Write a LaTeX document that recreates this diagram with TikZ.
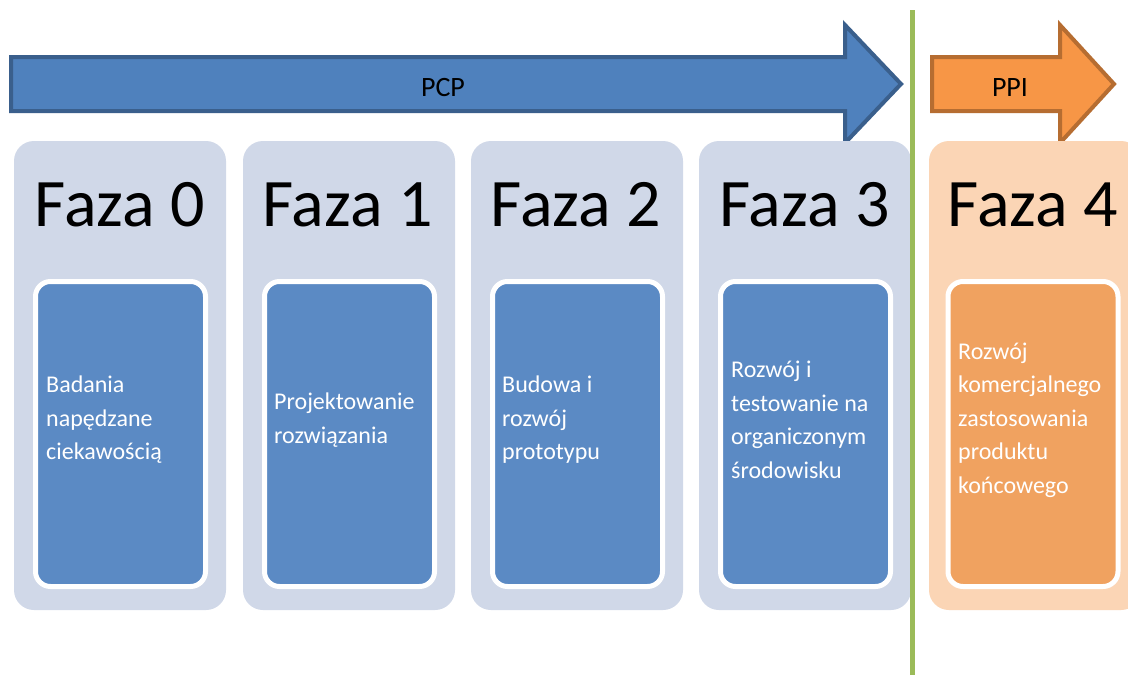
\documentclass[tikz,border=0pt]{standalone}
\usepackage{fontspec}
\setmainfont{Carlito}
\definecolor{arrblue}{HTML}{4F81BD}
\definecolor{arrblueedge}{HTML}{3A5F8C}
\definecolor{arrorange}{HTML}{F79646}
\definecolor{arrorangeedge}{HTML}{B66D31}
\definecolor{panelblue}{HTML}{D0D8E8}
\definecolor{panelorange}{HTML}{FBD5B5}
\definecolor{innerblue}{HTML}{5B8AC4}
\definecolor{innerorange}{HTML}{F0A260}
\definecolor{sepgreen}{HTML}{9BBB59}
\tikzset{
  panel/.style={rounded corners=20pt, minimum width=212pt, minimum height=469pt, inner sep=0pt},
  innerbox/.style={draw=white, line width=5pt, rounded corners=15pt, minimum width=170pt, minimum height=305pt, inner sep=0pt},
  fazatext/.style={font=\fontsize{68}{76}\selectfont, text=black, inner sep=0pt},
  desc/.style={font=\fontsize{24}{33.5}\selectfont, text=white, align=left, anchor=west, inner sep=0pt},
  arrowlabel/.style={font=\fontsize{28}{32}\selectfont, text=black, inner sep=0pt},
  bigarrow/.style={line width=4pt, line join=miter},
}
\begin{document}
\begin{tikzpicture}[x=1pt,y=-1pt]
\clip (0,0) rectangle (1128,675);
\fill[white] (0,0) rectangle (1128,675);
% arrows
\draw[bigarrow, fill=arrblue, draw=arrblueedge]
  (11,57) -- (845,57) -- (845,25) -- (901,84) -- (845,143) -- (845,111) -- (11,111) -- cycle;
\node[arrowlabel] (pcp) at (443,88) {PCP};
\draw[bigarrow, fill=arrorange, draw=arrorangeedge]
  (932,57) -- (1060,57) -- (1060,25) -- (1114,84) -- (1060,143) -- (1060,111) -- (932,111) -- cycle;
\node[arrowlabel] (ppi) at (1010,88) {PPI};
% panels
\node[panel, fill=panelblue] (p0) at (120,375.5) {};
\node[panel, fill=panelblue] (p1) at (349,375.5) {};
\node[panel, fill=panelblue] (p2) at (577,375.5) {};
\node[panel, fill=panelblue] (p3) at (805,375.5) {};
\node[panel, fill=panelorange] (p4) at (1035,375.5) {};
% titles
\node[fazatext] (f0) at (120,205) {Faza 0};
\node[fazatext] (f1) at (347.5,205) {Faza 1};
\node[fazatext] (f2) at (576,205) {Faza 2};
\node[fazatext] (f3) at (804.5,205) {Faza 3};
\node[fazatext] (f4) at (1033,205) {Faza 4};
% inner boxes
\node[innerbox, fill=innerblue] (b0) at (120.5,434) {};
\node[innerbox, fill=innerblue] (b1) at (349.5,434) {};
\node[innerbox, fill=innerblue] (b2) at (577.5,434) {};
\node[innerbox, fill=innerblue] (b3) at (805.5,434) {};
\node[innerbox, fill=innerorange] (b4) at (1033,434) {};
% descriptions
\node[desc] (t0) at (46,420) {Badania\\napędzane\\ciekawością};
\node[desc] (t1) at (274,420) {Projektowanie\\rozwiązania};
\node[desc] (t2) at (502,420) {Budowa i\\rozwój\\prototypu};
\node[desc] (t3) at (731,420) {Rozwój i\\testowanie na\\organiczonym\\środowisku};
\node[desc] (t4) at (958,420) {Rozwój\\komercjalnego\\zastosowania\\produktu\\końcowego};
% separator
\coordinate (gtop) at (912,10);
\coordinate (gbot) at (912,675);
\draw[sepgreen, line width=5pt] (gtop) -- (gbot);
\end{tikzpicture}
\end{document}
